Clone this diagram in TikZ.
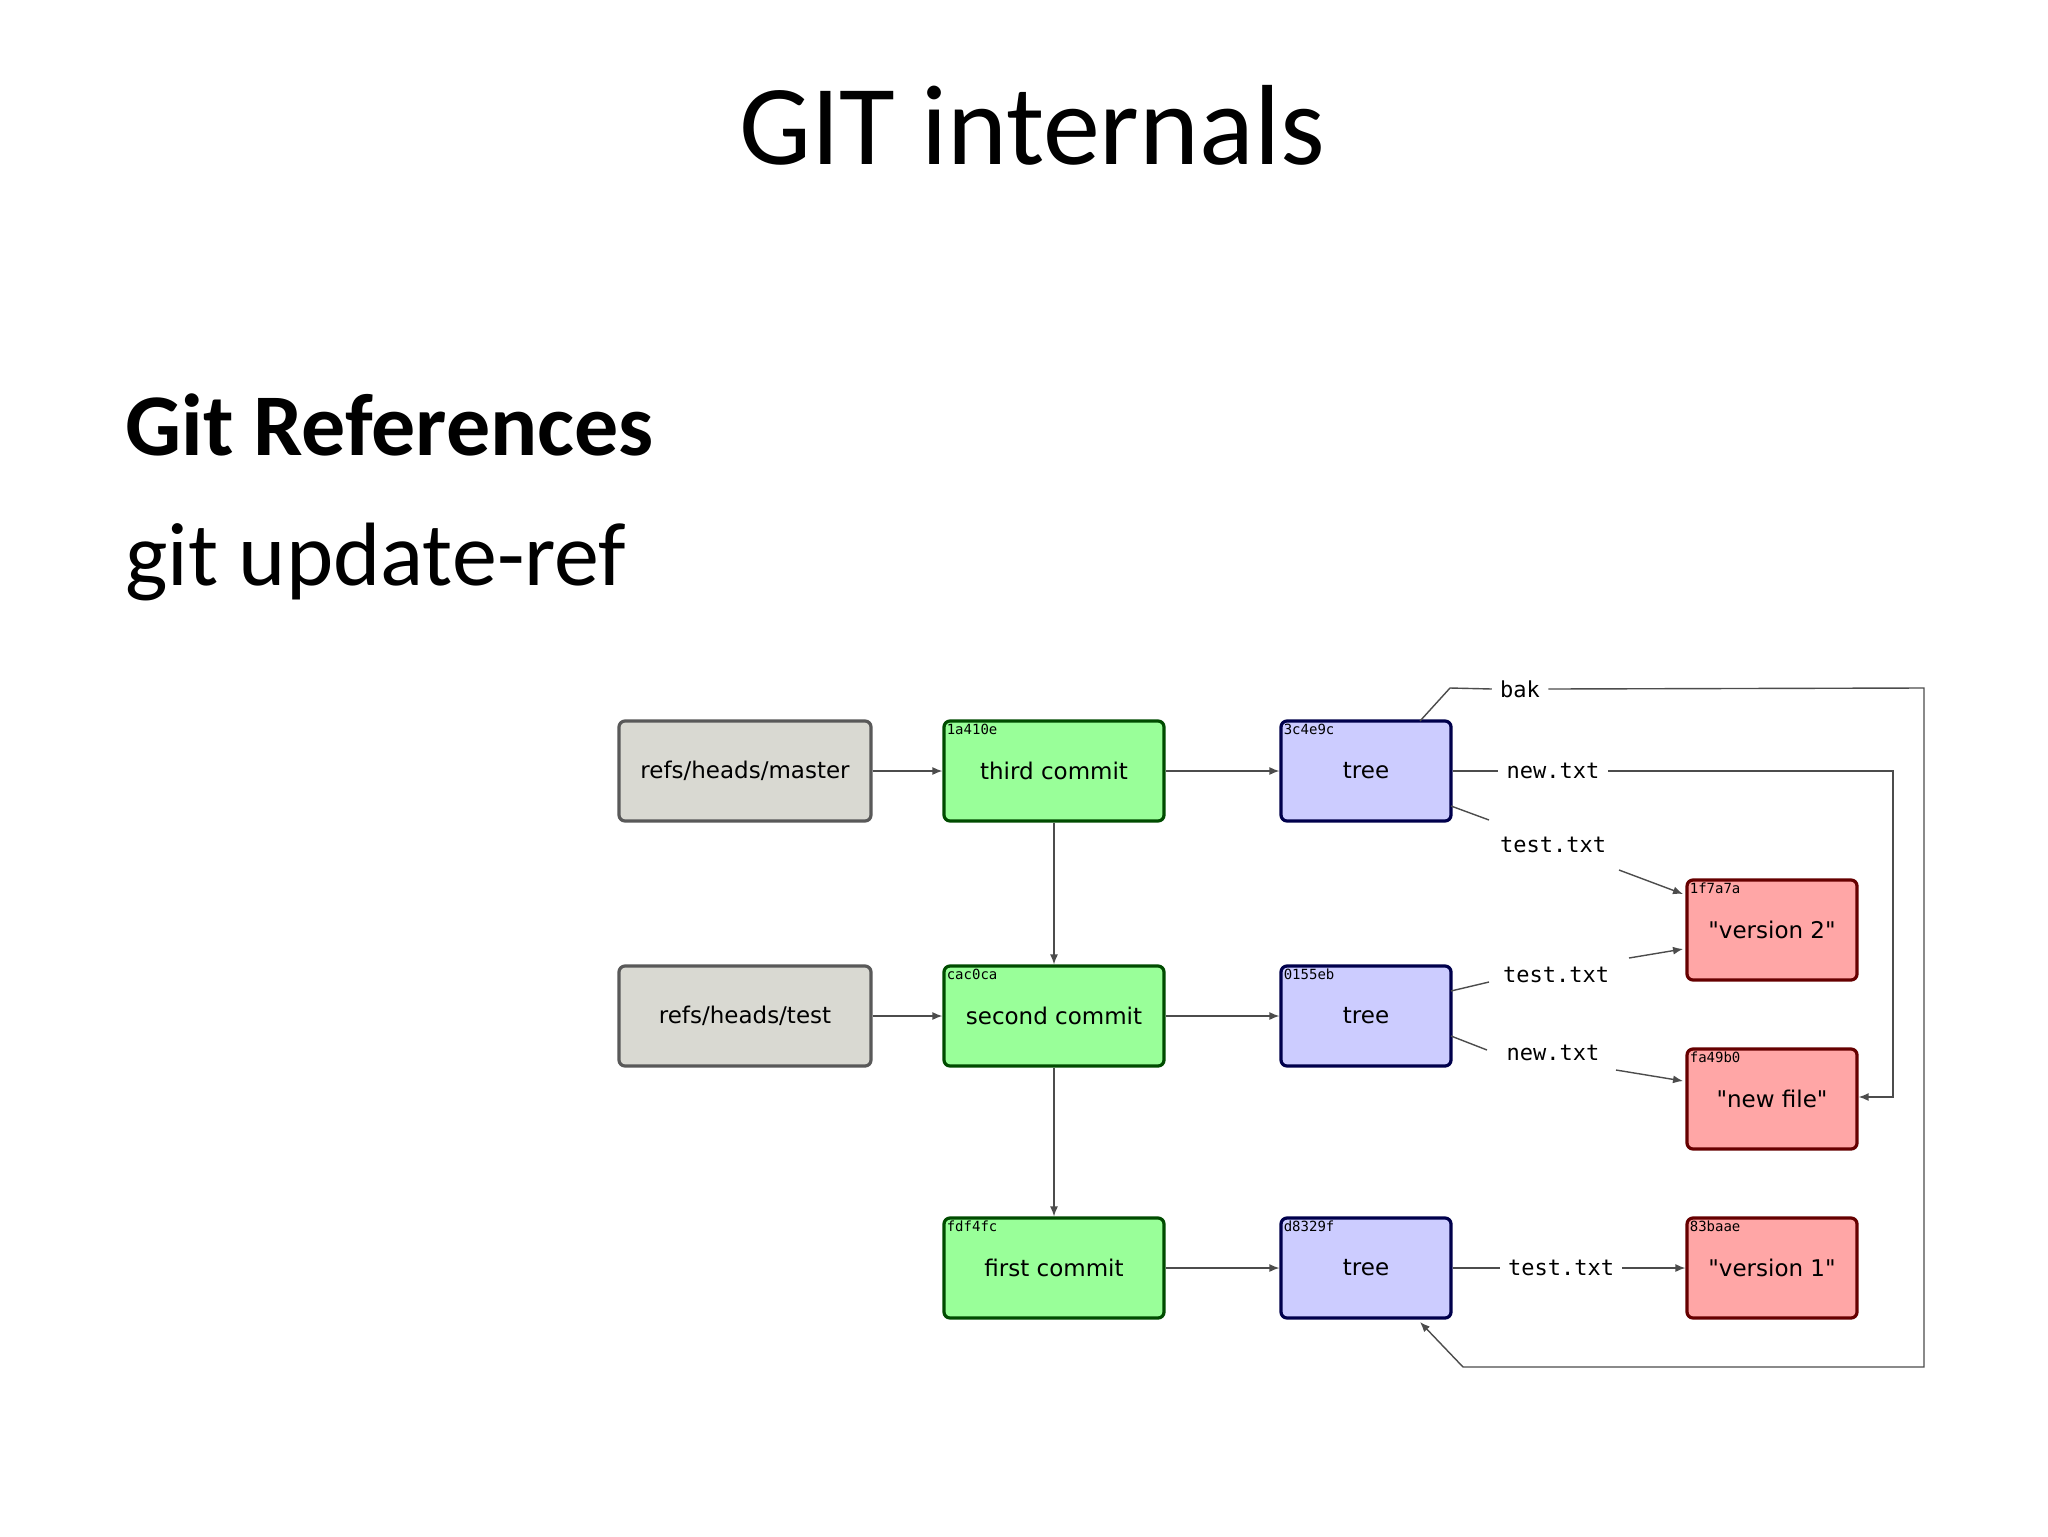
\documentclass[tikz,border=0pt]{standalone}
\usepackage{fontspec}
\setmainfont{Carlito}
\newfontfamily\djsans{DejaVu Sans}
\newfontfamily\djmono{DejaVu Sans Mono}
\usetikzlibrary{arrows.meta}
\definecolor{refgray}{HTML}{D9D9D2}
\begin{document}
\begin{tikzpicture}[x=0.5pt,y=-0.5pt,
  box/.style={draw,line width=1.6pt,rounded corners=3pt,minimum height=50pt,inner sep=0pt,font=\djsans\fontsize{11.5}{13}\selectfont},
  gbox/.style={box,fill=refgray,draw=black!65,minimum width=126pt},
  cbox/.style={box,fill=green!40!white,draw=green!30!black,minimum width=110pt},
  tbox/.style={box,fill=blue!20!white,draw=blue!30!black,minimum width=85pt},
  bbox/.style={box,fill=red!35!white,draw=red!40!black,minimum width=85pt},
  hash/.style={font=\djmono\fontsize{7}{8}\selectfont,anchor=north west,inner sep=2pt},
  lab/.style={font=\djmono\fontsize{11}{13}\selectfont,inner sep=1pt},
  con/.style={draw=black!70,line width=0.7pt},
  arr/.style={con,-{Latex[length=5pt,width=4pt]}}]
\useasboundingbox (0,0) rectangle (2048,1536);
\fill[white] (0,0) rectangle (2048,1536);
\node[font=\fontsize{57}{64}\selectfont] (title) at (1032,125) {GIT internals};
\node[anchor=base west,inner sep=0pt,font=\bfseries\fontsize{44}{50}\selectfont] (h1) at (125,455) {Git References};
\node[anchor=base west,inner sep=0pt,font=\fontsize{45}{50}\selectfont] (h2) at (125,585) {git update-ref};

\node[gbox] (master) at (745,771) {refs/heads/master};
\node[cbox] (c3) at (1054,771) {third commit};
\node[tbox] (t1) at (1366,771) {tree};
\node[gbox] (test) at (745,1016) {refs/heads/test};
\node[cbox] (c2) at (1054,1016) {second commit};
\node[tbox] (t2) at (1366,1016) {tree};
\node[cbox] (c1) at (1054,1268) {first commit};
\node[tbox] (t3) at (1366,1268) {tree};
\node[bbox] (v2) at (1772,930) {"version 2"};
\node[bbox] (nf) at (1772,1099) {"new file"};
\node[bbox] (v1) at (1772,1268) {"version 1"};
\node[hash] at (c3.north west) {1a410e};
\node[hash] at (c2.north west) {cac0ca};
\node[hash] at (c1.north west) {fdf4fc};
\node[hash] at (t1.north west) {3c4e9c};
\node[hash] at (t2.north west) {0155eb};
\node[hash] at (t3.north west) {d8329f};
\node[hash] at (v2.north west) {1f7a7a};
\node[hash] at (nf.north west) {fa49b0};
\node[hash] at (v1.north west) {83baae};

\draw[arr] (master) -- (c3);
\draw[arr] (test) -- (c2);
\draw[arr] (c3) -- (t1);
\draw[arr] (c2) -- (t2);
\draw[arr] (c1) -- (t3);
\draw[arr] (c3) -- (c2);
\draw[arr] (c2) -- (c1);

\node[lab,inner sep=4pt] (bak) at (1520,689) {bak};
\node[lab,inner sep=4pt] (n1) at (1553,771) {new.txt};
\node[lab] (s1) at (1553,845) {test.txt};
\node[lab] (s2) at (1556,975) {test.txt};
\node[lab] (n2) at (1553,1053) {new.txt};
\node[lab,inner sep=4pt] (s3) at (1561,1268) {test.txt};

\coordinate (bk1) at (1450,688);
\coordinate (bkR) at (1924,688);
\coordinate (bkB) at (1924,1367);
\coordinate (bkL) at (1463,1367);
\coordinate (bkT) at (1420,1322);
\draw[con] (1420,721) -- (bk1) -- (bak.west);
\draw[arr] (bak.east) -- (bkR) -- (bkB) -- (bkL) -- (bkT);

\coordinate (nR) at (1893,771);
\coordinate (nB) at (1893,1097);
\draw[con] (t1.east) -- (n1.west);
\draw[arr] (n1.east) -- (nR) -- (nB) -- (nB -| nf.east);

\draw[con] (1451,806) -- (1489,820);
\draw[arr] (1619,870) -- (1683,894);
\draw[con] (1451,991) -- (1489,982);
\draw[arr] (1629,958) -- (1683,949);
\draw[con] (1451,1036) -- (1487,1050);
\draw[arr] (1616,1070) -- (1683,1081);
\draw[con] (t3.east) -- (s3.west);
\draw[arr] (s3.east) -- (v1.west);
\end{tikzpicture}
\end{document}
